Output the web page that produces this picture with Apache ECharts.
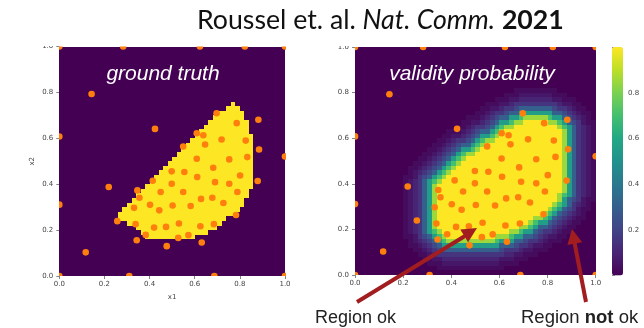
<!DOCTYPE html>
<html><head><meta charset="utf-8">
<script src="https://cdn.jsdelivr.net/npm/echarts@6/dist/echarts.min.js"></script>
<style>html,body{margin:0;padding:0;background:#fff}#c{width:644px;height:328px}</style>
</head><body><div id="c"></div>
<script>
// ---------------- data ----------------
const GRID_N = 50;                       // 50 x 50 cells on [0,1] x [0,1]
const tickStep = 0.2;
const colorbarTicks = [0.2, 0.4, 0.6, 0.8];

// sampled points (x1, x2)
const sampleX = [0, 0.283, 0.623, 0.822, 1, 0.143, 0.424, 0, 0.697, 0.882, 0.786, 0.609, 0.638, 0.719, 0.826, 0.549, 0.646, 0.885, 1, 0.833, 0.609, 0.753, 0.682, 0.498, 0.554, 0.801, 0.611, 0.414, 0.690, 0.879, 0.498, 0.753, 0.219, 0.346, 0.449, 0.549, 0.789, 0.355, 0.628, 0.678, 0, 0.727, 0.402, 0.502, 0.582, 0.331, 0.443, 0.783, 0.257, 0.530, 0.338, 0.685, 0.473, 0.625, 0.420, 0.383, 0.572, 0.527, 0.343, 0.631, 0.476, 0.117, 0, 0.310, 0.687, 1];
const sampleY = [1, 1, 1, 1, 1, 0.793, 0.641, 0.608, 0.709, 0.681, 0.666, 0.622, 0.613, 0.595, 0.590, 0.564, 0.573, 0.551, 0.521, 0.518, 0.511, 0.508, 0.472, 0.456, 0.453, 0.438, 0.431, 0.415, 0.409, 0.414, 0.402, 0.402, 0.388, 0.373, 0.366, 0.366, 0.366, 0.341, 0.336, 0.341, 0.311, 0.318, 0.310, 0.307, 0.305, 0.297, 0.286, 0.266, 0.239, 0.229, 0.226, 0.226, 0.214, 0.217, 0.211, 0.179, 0.178, 0.166, 0.156, 0.146, 0.130, 0.103, 0, 0, 0, 0];

// ground truth valid region: [row, firstCol, lastCol] (row 0 = bottom)
const truthRows = [[8,19,29],[9,18,32],[10,17,34],[11,15,35],[12,13,36],[13,13,38],[14,14,39],[15,15,40],[16,16,40],[17,17,41],[18,18,41],[19,19,42],[20,20,42],[21,21,42],[22,22,42],[23,23,42],[24,24,42],[25,25,42],[26,26,42],[27,27,42],[28,28,42],[29,29,42],[30,30,42],[31,31,41],[32,32,41],[33,33,41],[34,34,40],[35,35,40],[36,37,39],[37,38,38]];

// validity probability, one string per row (top row first), one char per cell, groups of 10
const probLevels = {'0':0,'1':0.03,'2':0.06,'3':0.1,'4':0.15,'5':0.22,'6':0.3,'7':0.4,'8':0.55,'9':0.7,'a':0.85,'b':1.0};
const probRowsTop = [
"0000000000 0000000000 0000000000 0000000000 0000000000", // 49
"0000000000 0000000000 0000000000 0000000000 0000000000",
"0000000000 0000000000 0000000000 0000000000 0000000000",
"0000000000 0000000000 0000000000 0000000000 0000000000",
"0000000000 0000000000 0000000000 0000000000 0000000000",
"0000000000 0000000000 0000000000 0000000000 0000000000",
"0000000000 0000000000 0000000000 0000000000 0000000000",
"0000000000 0000000000 0000000000 0000000000 0000000000",
"0000000000 0000000000 0000000000 0000000000 0000000000", // 41
"0000000000 0000000000 0000000000 0001111111 1100000000", // 40
"0000000000 0000000000 0000000000 0111222222 2111000000",
"0000000000 0000000000 0000000001 1122333333 3221110000",
"0000000000 0000000000 0000000111 2234444444 4432211000",
"0000000000 0000000000 0000001122 3445666666 6544321100",
"0000000000 0000000000 0000011234 4566888888 8665432110", // 35
"0000000000 0000000000 0001112345 66889aaaaa 9886543210",
"0000000000 0000000000 0011223456 889aabbbbb aa98654211",
"0000000000 0000000000 0112344568 9aabbbbbbb bba9864321",
"0000000000 0000000001 1123456689 abbbbbbbbb bbba864321",
"0000000000 0000000011 223456889a bbbbbbbbbb bbba864321", // 30
"0000000000 0000000112 3445689aab bbbbbbbbbb bbba864321",
"0000000000 0000001123 456689abbb bbbbbbbbbb bbba864321",
"0000000000 0000011234 56889abbbb bbbbbbbbbb bbba864321",
"0000000000 0000112345 689aabbbbb bbbbbbbbbb bbba864321",
"0000000000 0001123456 89abbbbbbb bbbbbbbbbb bbba864321", // 25
"0000000000 0011234568 9abbbbbbbb bbbbbbbbbb bbba864321",
"0000000000 0112345689 abbbbbbbbb bbbbbbbbbb bbba864321",
"0000000000 012345689a bbbbbbbbbb bbbbbbbbbb bbba864321",
"0000000000 11245689ab bbbbbbbbbb bbbbbbbbbb bbba864321",
"0000000000 1234689abb bbbbbbbbbb bbbbbbbbbb bbba864321", // 20
"0000000000 123468abbb bbbbbbbbbb bbbbbbbbbb bbba864321",
"0000000000 123468abbb bbbbbbbbbb bbbbbbbbbb bbba864321",
"0000000000 123468abbb bbbbbbbbbb bbbbbbbbbb bba9864321",
"0000000000 123468abbb bbbbbbbbbb bbbbbbbbbb bba8654211",
"0000000000 123468abbb bbbbbbbbbb bbbbbbbbbb ba98643210", // 15
"0000000000 123468abbb bbbbbbbbbb bbbbbbbbbb a986542110",
"0000000000 123468abbb bbbbbbbbbb bbbbbbbbba 9865432100",
"0000000000 123468abbb bbbbbbbbbb bbbbbbbaa9 8654321100",
"0000000000 123468abbb bbbbbbbbbb bbbbbba988 6543211000",
"0000000000 123468abbb bbbbbbbbbb bbbbaa9866 5432110000", // 10
"0000000000 1234689abb bbbbbbbbbb bbaa988654 4321100000",
"0000000000 11245689ab bbbbbbbbba aa98866543 2211000000",
"0000000000 012345689a aaaaaaaaa9 8886654432 1110000000",
"0000000000 0112345688 8888888888 6665443221 1000000000",
"0000000000 0011234566 6666666666 5444322111 0000000000", // 5
"0000000000 0001123444 4444444444 4332211100 0000000000",
"0000000000 0000112233 3333333333 2221110000 0000000000",
"0000000000 0000011122 2222222222 1111000000 0000000000",
"0000000000 0000000111 1111111111 1000000000 0000000000",
"0000000000 0000000000 0000000000 0000000000 0000000000"  // 0
].map(s => s.replace(/ /g, ''));

const viridis = ['#440154','#482475','#414487','#355f8d','#2a788e','#21918c','#22a884','#44bf70','#7ad151','#bddf26','#fde725'];

// ---------------- build ----------------
const cell = 1 / GRID_N;
const truthData = [];
for (let j = 0; j < GRID_N; j++) {
  const r = truthRows.find(t => t[0] === j);
  for (let i = 0; i < GRID_N; i++) truthData.push([i * cell, j * cell, (r && i >= r[1] && i <= r[2]) ? 1 : 0]);
}
const probData = [];
probRowsTop.forEach((s, r) => {
  const j = GRID_N - 1 - r;
  for (let i = 0; i < GRID_N; i++) probData.push([i * cell, j * cell, probLevels[s[i]] || 0]);
});
const samples = sampleX.map((x, k) => [x, sampleY[k]]);

const L = {left: 59.3, top: 46.5, width: 225.7, height: 229.5};
const R = {left: 355, top: 47, width: 240.7, height: 228};
const CB = {left: 612, top: 47, width: 11, height: 228.5};

const tickFont = {fontSize: 7, color: '#444', fontFamily: 'DejaVu Sans'};
function valAxis(g, extra) {
  return Object.assign({
    gridIndex: g, type: 'value', min: 0, max: 1, interval: tickStep,
    axisLine: {show: false}, splitLine: {show: false},
    axisTick: {show: true, length: 3, lineStyle: {color: '#666', width: 0.8}},
    axisLabel: Object.assign({margin: 5, formatter: v => v.toFixed(1)}, tickFont)
  }, extra || {});
}

function renderCell(params, api) {
  const x = api.value(0), y = api.value(1);
  const p0 = api.coord([x, y]);
  const p1 = api.coord([x + cell, y + cell]);
  const x0 = Math.round(p0[0]), x1 = Math.round(p1[0]);
  const y0 = Math.round(p1[1]), y1 = Math.round(p0[1]);
  return {type: 'rect', shape: {x: x0, y: y0, width: x1 - x0, height: y1 - y0}, style: {fill: api.visual('color')}};
}
function renderDot(params, api) {
  const p = api.coord([api.value(0), api.value(1)]);
  return {type: 'circle', shape: {cx: p[0], cy: p[1], r: 3.3}, style: {fill: '#ff7f0e'}};
}

const arrowColor = '#a21d1f';
const chart = echarts.init(document.getElementById('c'), null, {renderer: 'canvas', width: 644, height: 328});
chart.setOption({
  animation: false,
  grid: [Object.assign({}, L), Object.assign({}, R), Object.assign({}, CB)],
  xAxis: [
    valAxis(0, {name: 'x1', nameLocation: 'middle', nameGap: 18, nameTextStyle: tickFont}),
    valAxis(1),
    {gridIndex: 2, type: 'value', min: 0, max: 1, show: false}
  ],
  yAxis: [
    valAxis(0, {name: 'x2', nameLocation: 'middle', nameGap: 24, nameRotate: 90, nameTextStyle: tickFont, axisLabel: Object.assign({margin: 6, formatter: v => v.toFixed(1)}, tickFont)}),
    valAxis(1, {axisLabel: Object.assign({margin: 6, formatter: v => v.toFixed(1)}, tickFont)}),
    valAxis(2, {position: 'right', axisLabel: Object.assign({margin: 5, formatter: v => colorbarTicks.some(t => Math.abs(t - v) < 1e-6) ? v.toFixed(1) : ''}, tickFont)})
  ],
  visualMap: {
    type: 'continuous', min: 0, max: 1, seriesIndex: [0, 1], dimension: 2, calculable: false, show: true,
    left: CB.left, top: CB.top, itemWidth: CB.width, itemHeight: CB.height, padding: 0,
    inRange: {color: viridis}, hoverLink: false
  },
  series: [
    {type: 'custom', xAxisIndex: 0, yAxisIndex: 0, data: truthData, encode: {x: 0, y: 1}, renderItem: renderCell, clip: true, z: 1, silent: true},
    {type: 'custom', xAxisIndex: 1, yAxisIndex: 1, data: probData, encode: {x: 0, y: 1}, renderItem: renderCell, clip: true, z: 1, silent: true},
    {type: 'custom', xAxisIndex: 0, yAxisIndex: 0, data: samples, encode: {x: 0, y: 1}, renderItem: renderDot, clip: true, z: 5, silent: true},
    {type: 'custom', xAxisIndex: 1, yAxisIndex: 1, data: samples, encode: {x: 0, y: 1}, renderItem: renderDot, clip: true, z: 5, silent: true}
  ],
  graphic: [
    {type: 'rect', z: 100, shape: {x: 0, y: 0, width: 644, height: 46}, style: {fill: '#fff'}},
    {type: 'text', z: 101, x: 197, y: 20, style: {
      text: '{n|Roussel et. al. }{i|Nat. Comm.}{n| }{b|2021}',
      textVerticalAlign: 'middle', verticalAlign: 'middle',
      rich: {
        n: {fontFamily: 'Lato', fontSize: 26.7, fill: '#111', color: '#111'},
        i: {fontFamily: 'Lato', fontSize: 26.7, fontStyle: 'italic', fill: '#111', color: '#111'},
        b: {fontFamily: 'Lato', fontSize: 26.7, fontWeight: 'bold', fill: '#111', color: '#111'}
      }}},
    {type: 'text', z: 50, x: 163, y: 74, style: {text: 'ground truth', font: 'italic 21px "Liberation Sans"', fill: '#fff', textAlign: 'center', align: 'center', textVerticalAlign: 'middle', verticalAlign: 'middle'}},
    {type: 'text', z: 50, x: 472, y: 74, style: {text: 'validity probability', font: 'italic 21px "Liberation Sans"', fill: '#fff', textAlign: 'center', align: 'center', textVerticalAlign: 'middle', verticalAlign: 'middle'}},
    {type: 'line', z: 60, shape: {x1: 357, y1: 302, x2: 465, y2: 236}, style: {stroke: arrowColor, lineWidth: 4}},
    {type: 'polygon', z: 60, shape: {points: [[477, 228], [468.1, 242.3], [460.3, 229.5]]}, style: {fill: arrowColor}},
    {type: 'line', z: 60, shape: {x1: 586, y1: 302, x2: 574.6, y2: 243}, style: {stroke: arrowColor, lineWidth: 4}},
    {type: 'polygon', z: 60, shape: {points: [[572, 229], [582.2, 242.3], [567.4, 245.1]]}, style: {fill: arrowColor}},
    {type: 'text', z: 60, x: 315, y: 318, style: {text: 'Region ok', font: '18px "Liberation Sans"', fill: '#222', textVerticalAlign: 'middle', verticalAlign: 'middle'}},
    {type: 'text', z: 60, x: 521, y: 318, style: {
      text: '{n|Region }{b|not}{n| ok}', textVerticalAlign: 'middle', verticalAlign: 'middle',
      rich: {n: {fontFamily: 'Liberation Sans', fontSize: 18.5, fill: '#222', color: '#222'}, b: {fontFamily: 'Liberation Sans', fontSize: 18.5, fontWeight: 'bold', fill: '#222', color: '#222'}}}}
  ]
});
</script>
</body></html>
